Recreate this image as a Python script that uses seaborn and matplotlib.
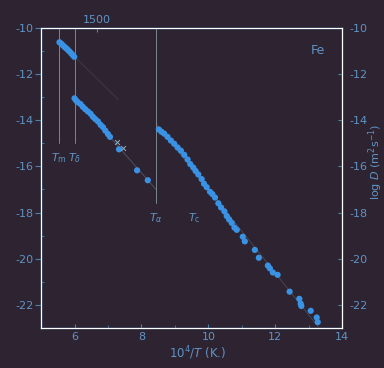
import numpy as np
import pandas as pd
import matplotlib
matplotlib.use("Agg")
import matplotlib.pyplot as plt
import matplotlib.ticker as ticker
import seaborn as sns

# --- data (x = 10^4/T in 1/K, y = log D in m^2/s) ---
delta_x = [5.55, 5.60, 5.65, 5.70, 5.75, 5.80, 5.85, 5.90, 5.95, 5.99]
delta_y = [-10.62, -10.68, -10.75, -10.82, -10.88, -10.95, -11.02, -11.10, -11.18, -11.25]

gamma_x = [6.00, 6.05, 6.10, 6.18, 6.25, 6.32, 6.40, 6.48, 6.55, 6.62, 6.70,
           6.78, 6.85, 6.92, 7.00, 7.06, 7.33, 7.87, 8.19]
gamma_y = [-13.05, -13.15, -13.22, -13.30, -13.42, -13.52, -13.62, -13.72, -13.85,
           -13.95, -14.05, -14.20, -14.30, -14.45, -14.60, -14.72, -15.26, -16.17, -16.60]

cross_x = [7.27, 7.45]
cross_y = [-14.96, -15.20]

alpha_x = [8.52, 8.60, 8.68, 8.78, 8.88, 8.98, 9.08, 9.18, 9.28, 9.38, 9.46, 9.55,
           9.62, 9.70, 9.80, 9.87, 9.95, 10.05, 10.12, 10.20, 10.30, 10.38, 10.48,
           10.55, 10.62, 10.70, 10.78, 10.85, 11.03, 11.09, 11.39, 11.51, 11.78,
           11.84, 11.93, 12.07, 12.43, 12.72, 12.76, 12.78, 13.06, 13.24, 13.27]
alpha_y = [-14.40, -14.50, -14.58, -14.72, -14.88, -15.02, -15.18, -15.32, -15.50,
           -15.70, -15.90, -16.05, -16.20, -16.35, -16.55, -16.75, -16.90, -17.10,
           -17.20, -17.35, -17.60, -17.78, -17.95, -18.15, -18.30, -18.45, -18.65,
           -18.75, -19.05, -19.25, -19.62, -19.96, -20.30, -20.42, -20.60, -20.70,
           -21.43, -21.74, -21.95, -22.05, -22.26, -22.55, -22.75]

# transition temperatures (K)
T_m, T_delta, T_alpha, T_c = 1811, 1665, 1185, 1043
top_temp = [1500]

bg = '#2e2431'
edge = '#4f80a8'
txt = '#5f93c4'
pt = '#3a92e4'

sns.set_style('dark', {'axes.facecolor': bg, 'figure.facecolor': bg})
plt.rcParams['font.family'] = ['DejaVu Sans']
plt.rcParams['axes.unicode_minus'] = False

fig = plt.figure(figsize=(3.84, 3.68), dpi=100)
ax = fig.add_axes([0.107, 0.109, 0.784, 0.815])

df = pd.concat([
    pd.DataFrame({'x': delta_x, 'y': delta_y, 'phase': 'delta'}),
    pd.DataFrame({'x': gamma_x, 'y': gamma_y, 'phase': 'gamma'}),
    pd.DataFrame({'x': alpha_x, 'y': alpha_y, 'phase': 'alpha'}),
])

# faint fit lines
for xs, ys, x0, x1, a in [(delta_x, delta_y, 5.5, 7.3, 0.2),
                          (gamma_x, gamma_y, 1e4 / T_delta, 1e4 / T_alpha, 0.4),
                          (alpha_x, alpha_y, 1e4 / T_alpha, 13.3, 0.3)]:
    k, b = np.polyfit(xs, ys, 1)
    fx = np.array([x0, x1])
    ax.plot(fx, k * fx + b, color='#8aa0b8', lw=0.6, alpha=a, zorder=1)

sns.scatterplot(data=df, x='x', y='y', color=pt, s=20, edgecolor='none', ax=ax, zorder=3)
ax.scatter(cross_x, cross_y, marker='x', color='#8fb0cc', s=12, lw=0.7, zorder=3)

# transition lines
for T, yb in [(T_m, -15.0), (T_delta, -15.0), (T_alpha, -17.6)]:
    ax.plot([1e4 / T, 1e4 / T], [-10, yb], color='#7a8690', lw=0.7, zorder=2)
ax.text(1e4 / T_m, -15.35, r'$T_\mathrm{m}$', color=txt, fontsize=8, ha='center', va='top')
ax.text(1e4 / T_delta, -15.35, r'$T_\delta$', color=txt, fontsize=8, ha='center', va='top')
ax.text(1e4 / T_alpha, -17.95, r'$T_\alpha$', color=txt, fontsize=8, ha='center', va='top')
ax.text(1e4 / T_c, -17.95, r'$T_\mathrm{c}$', color=txt, fontsize=8, ha='center', va='top')
ax.text(0.92, 0.925, 'Fe', transform=ax.transAxes, color=txt, fontsize=9, ha='center', va='center')

ax.set_xlim(5, 14)
ax.set_ylim(-23, -10)
ax.set_xlabel('')
ax.set_ylabel('')
ax.xaxis.set_major_locator(ticker.FixedLocator([6, 8, 10, 12, 14]))
ax.xaxis.set_minor_locator(ticker.MultipleLocator(1))
ax.yaxis.set_major_locator(ticker.MultipleLocator(2))
ax.yaxis.set_minor_locator(ticker.MultipleLocator(1))
ax.tick_params(axis='x', which='both', direction='in', colors=edge, labelcolor=txt,
               labelsize=8, length=3, pad=3)
ax.tick_params(axis='x', which='minor', length=2)
ax.tick_params(axis='y', which='major', direction='out', colors=edge, labelcolor=txt,
               labelsize=8, length=4, pad=1.5, left=True)
ax.tick_params(axis='y', which='minor', direction='in', colors=edge, length=2, left=True)
ax.grid(False)
for s in ax.spines.values():
    s.set_color(edge)
    s.set_linewidth(1.0)

# right axis
axr = ax.twinx()
axr.set_ylim(-23, -10)
axr.yaxis.set_major_locator(ticker.MultipleLocator(2))
axr.tick_params(axis='y', direction='in', colors=edge, labelcolor=txt, labelsize=8,
                length=3, pad=5, right=True)
axr.grid(False)
for s in axr.spines.values():
    s.set_color(edge)

# top temperature axis
axt = ax.twiny()
axt.set_xlim(5, 14)
axt.set_xticks([1e4 / t for t in top_temp])
axt.set_xticklabels([str(t) for t in top_temp])
axt.tick_params(axis='x', direction='in', colors=edge, labelcolor=txt, labelsize=8,
                length=3, pad=2, top=True)
axt.grid(False)

fig.text(0.515, 0.04, r'10$^4$/$T$ (K.)', color=txt, fontsize=8.5, ha='center', va='center')
fig.text(0.978, 0.56, r'log $D$ (m$^2$s$^{-1}$)', color=txt, fontsize=8,
         rotation=90, ha='center', va='center')

fig.savefig('out.png', dpi=100, facecolor=bg)
